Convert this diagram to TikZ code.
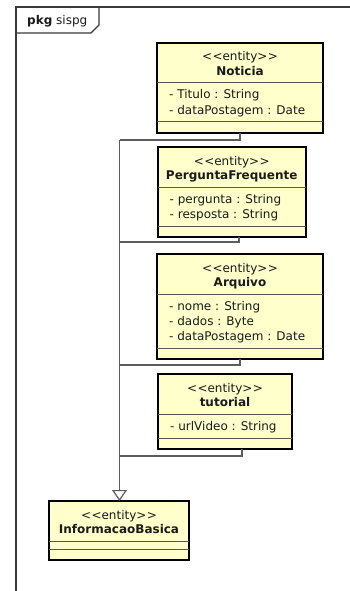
\documentclass[tikz,border=0pt]{standalone}
\usepackage{fontspec}
\setmainfont{DejaVu Sans}
\usetikzlibrary{arrows.meta,calc}

\definecolor{entityfill}{HTML}{FFFFCC}
\definecolor{sepcol}{HTML}{5A5A44}
\definecolor{conncol}{HTML}{5C5C5C}
\definecolor{framecol}{HTML}{3A3A3A}
\definecolor{textcol}{HTML}{1A1A1A}

% kerns keep the two angle brackets from merging into guillemets
\newcommand{\stereotext}{<\kern0.4pt<entity>\kern0.4pt>}

\tikzset{
  entity/.style={rectangle, draw=black, line width=2pt, fill=entityfill,
    anchor=north west, inner sep=0pt, outer sep=0pt},
  sepline/.style={draw=sepcol, line width=1pt},
  stereo/.style={inner sep=0pt, text=textcol, text height=8.5pt, text depth=2.5pt,
    font=\fontsize{12}{14}\selectfont},
  classname/.style={stereo, font=\fontsize{12}{14}\selectfont\bfseries},
  attrline/.style={stereo, anchor=west},
  conn/.style={draw=conncol, line width=1.2pt},
  framestyle/.style={draw=framecol, line width=1.4pt},
}

% #1 node name, #2 left, #3 top, #4 width, #5 class name,
% #6 number of attributes, #7 attribute list
\newcommand{\entitybox}[7]{%
  \pgfmathsetmacro{\sepb}{#6>0 ? 49+15*#6 : 48}%
  \pgfmathsetmacro{\boxh}{\sepb+11}%
  \node[entity, minimum width=#4pt, minimum height=\boxh pt] (#1) at (#2,#3) {};
  \draw[sepline] ([yshift=-40pt]#1.north west) -- ([yshift=-40pt]#1.north east);
  \draw[sepline] ([yshift=-\sepb pt]#1.north west) -- ([yshift=-\sepb pt]#1.north east);
  \node[stereo] (#1-st) at ([yshift=-15pt]#1.north) {\stereotext};
  \node[classname] (#1-nm) at ([yshift=-29.5pt]#1.north) {#5};
  \ifnum#6>0
    \foreach \a [count=\i] in {#7}
      \node[attrline] (#1-a\i) at ([xshift=12pt, yshift={-(38+15*\i)*1pt}]#1.north west) {\a};
  \fi
}

\begin{document}
\begin{tikzpicture}[x=1pt, y=-1pt]
  \fill[white] (0,0) rectangle (350,591);
  \useasboundingbox (0,0) rectangle (350,591);
  \clip (0,0) rectangle (350,591);

  % package frame and its name tab
  \draw[framestyle] (16,600) -- (16,7) -- (360,7);
  \draw[framestyle] (16,33) -- (91,33) -- (99,25) -- (99,7);
  \node[anchor=west, inner sep=0pt, text=textcol, font=\fontsize{12}{14}\selectfont]
    (pkglabel) at (27,21) {\textbf{pkg} sispg};

  % entities
  \entitybox{noticia}{157}{43}{166}{Noticia}{2}{- Titulo : String,- dataPostagem : Date}
  \entitybox{pergunta}{157.5}{147}{148.5}{PerguntaFrequente}{2}{- pergunta : String,- resposta : String}
  \entitybox{arquivo}{157}{254}{166}{Arquivo}{3}{- nome : String,- dados : Byte,- dataPostagem : Date}
  \entitybox{tutorial}{158}{374}{134}{tutorial}{1}{- urlVideo : String}
  \entitybox{info}{49}{501}{140}{InformacaoBasica}{0}{}

  % generalization tree
  \coordinate (jN) at (119.5,140);
  \coordinate (jP) at (119.5,242);
  \coordinate (jA) at (119.5,365);
  \coordinate (jT) at (119.5,456);
  \draw[conn] ([xshift=83pt]noticia.south west) |- (jN);
  \draw[conn] ([xshift=81.5pt]pergunta.south west) |- (jP);
  \draw[conn] ([xshift=83pt]arquivo.south west) |- (jA);
  \draw[conn] ([xshift=84pt]tutorial.south west) |- (jT);
  \draw[conn, -{Triangle[open, length=11pt, width=15pt]}] (jN) -- (info.north -| jN);
\end{tikzpicture}
\end{document}
